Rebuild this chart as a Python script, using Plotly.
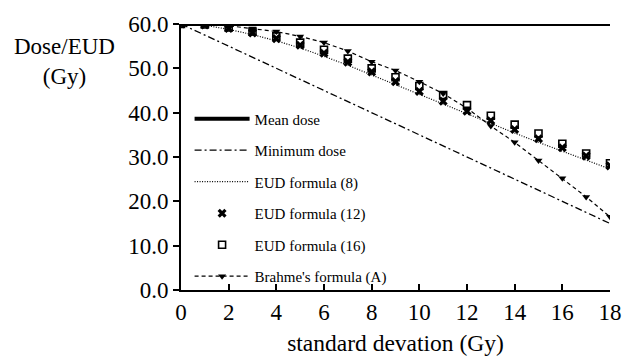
import plotly.graph_objects as go

sd = list(range(0, 19))
mean_x = [0, 18]
mean_dose = [60.0, 60.0]
min_x = [0, 18]
min_dose = [60.0, 15.0]
eud8 = [60.0, 59.7, 58.8, 57.6, 56.2, 54.6, 52.7, 50.7, 48.5, 46.3, 44.1, 41.9, 39.7, 37.5, 35.4, 33.3, 31.3, 29.3, 27.3]
eud12 = [60.0, 59.8, 59.0, 58.0, 56.7, 55.2, 53.4, 51.4, 49.2, 47.0, 44.8, 42.6, 40.3, 38.2, 36.2, 34.1, 32.1, 30.2, 28.0]
eud16 = [60.0, 59.9, 59.2, 58.3, 57.2, 55.8, 54.2, 52.2, 50.0, 48.0, 46.0, 44.0, 41.7, 39.3, 37.3, 35.3, 33.0, 30.8, 28.6]
brahme = [60.0, 59.9, 59.6, 59.0, 58.3, 57.2, 55.8, 53.9, 51.5, 49.5, 47.0, 44.3, 41.0, 37.0, 33.3, 29.2, 25.2, 21.0, 16.5]
x_ticks = [0, 2, 4, 6, 8, 10, 12, 14, 16, 18]
y_ticks = [0, 10, 20, 30, 40, 50, 60]
y_tick_text = ["0.0", "10.0", "20.0", "30.0", "40.0", "50.0", "60.0"]

FONT = "Times New Roman"
fig = go.Figure()
fig.add_trace(go.Scatter(x=min_x, y=min_dose, mode="lines", name="Minimum dose", legendgroup="b", legendrank=2,
                         line=dict(color="black", width=1.3, dash="7px,3px,2px,3px")))
fig.add_trace(go.Scatter(x=sd, y=eud8, mode="lines", name="EUD formula (8)", legendgroup="c", legendrank=3,
                         line=dict(color="black", width=1.2, dash="1px,1.5px")))
fig.add_trace(go.Scatter(x=sd, y=eud12, mode="markers", name="EUD formula (12)", legendgroup="d", legendrank=4,
                         marker=dict(symbol="x", size=8, color="black", line=dict(width=0))))
fig.add_trace(go.Scatter(x=sd, y=eud16, mode="markers", name="EUD formula (16)", legendgroup="e", legendrank=5,
                         marker=dict(symbol="square-open", size=7, color="black", line=dict(width=1.6))))
fig.add_trace(go.Scatter(x=sd, y=brahme, mode="lines+markers", name="Brahme's formula (A)", legendgroup="f", legendrank=6,
                         line=dict(color="black", width=1.2, dash="4px,3px"),
                         marker=dict(symbol="triangle-down", size=7, color="black")))
fig.add_trace(go.Scatter(x=mean_x, y=mean_dose, mode="lines", name="Mean dose", legendgroup="a", legendrank=1,
                         line=dict(color="black", width=4)))

fig.update_layout(
    width=634, height=364,
    margin=dict(l=181, r=13, t=21, b=74),
    paper_bgcolor="white", plot_bgcolor="white",
    font=dict(family=FONT, color="black", size=23),
    showlegend=True,
    legend=dict(x=0.02, y=0.705, xanchor="left", yanchor="top", bgcolor="rgba(0,0,0,0)",
                font=dict(family=FONT, size=15), itemwidth=55, tracegroupgap=9, traceorder="grouped"),
    xaxis=dict(range=[0, 18], tickvals=x_ticks, ticks="inside", ticklen=6, tickwidth=1.5, tickcolor="black",
               showline=True, linecolor="black", linewidth=2, showgrid=False, zeroline=False,
               tickfont=dict(size=23, family=FONT),
               title=dict(text="standard devation (Gy)", font=dict(size=23.5, family=FONT), standoff=11)),
    yaxis=dict(range=[0, 60], tickvals=y_ticks, ticktext=y_tick_text, ticks="outside", ticklen=6, tickwidth=1.5,
               tickcolor="black", showline=True, linecolor="black", linewidth=2, showgrid=False, zeroline=False,
               tickfont=dict(size=23, family=FONT)),
)
fig.add_annotation(text="Dose/EUD<br>(Gy)", xref="paper", yref="paper", x=-0.272, y=0.97, xanchor="center",
                   yanchor="top", showarrow=False, align="center", font=dict(size=23, family=FONT))
fig.write_html("out.html")
